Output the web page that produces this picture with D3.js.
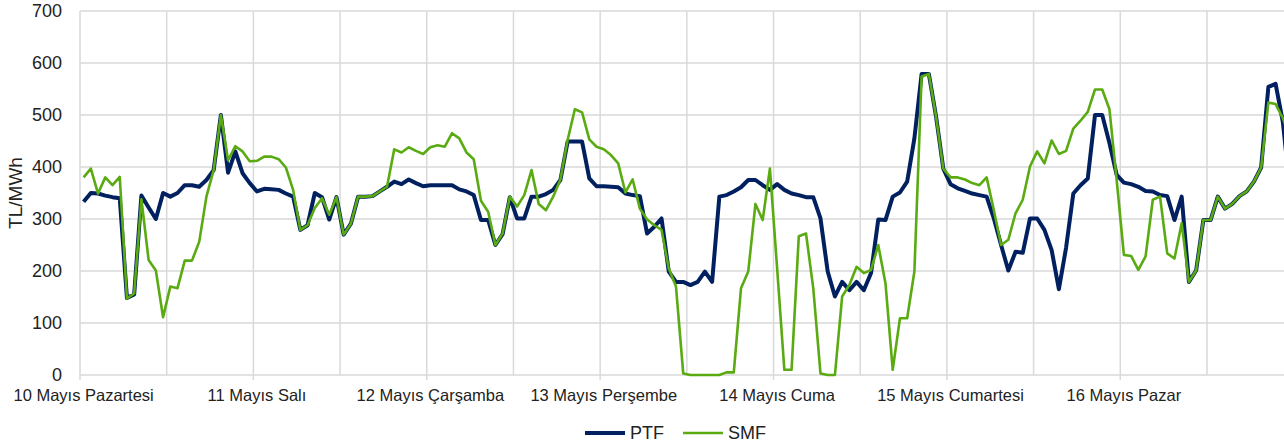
<!DOCTYPE html>
<html>
<head>
<meta charset="utf-8">
<script src="https://cdn.jsdelivr.net/npm/d3@7"></script>
<style>
  body { margin: 0; background: #fff; }
  text { font-family: Arial, "Liberation Sans", sans-serif; fill: #222; }
</style>
</head>
<body>
<script>
// hourly prices, 10-16 May (168 hours)
var days = ["10 Mayıs Pazartesi", "11 Mayıs Salı", "12 Mayıs Çarşamba", "13 Mayıs Perşembe",
            "14 Mayıs Cuma", "15 Mayıs Cumartesi", "16 Mayıs Pazar"];

var ptf = [
  333, 350, 349, 345, 342, 340, 148, 155, 345, 322, 300, 350, 343, 350, 365, 365, 362, 375, 394, 500, 389, 430, 388, 369,
  353, 358, 357, 356, 349, 343, 279, 288, 350, 342, 299, 342, 270, 291, 343, 343, 344, 353, 362, 372, 367, 376, 369, 363,
  365, 365, 365, 365, 357, 353, 346, 298, 298, 250, 271, 342, 301, 301, 343, 343, 348, 356, 375, 449, 449, 449, 378, 363,
  363, 362, 361, 349, 346, 344, 272, 285, 301, 199, 179, 179, 173, 179, 199, 179, 343, 346, 353, 361, 375, 375, 365, 356,
  367, 356, 349, 346, 342, 342, 301, 199, 151, 179, 163, 179, 163, 196, 299, 298, 343, 351, 372, 455, 579, 579, 497, 397,
  367, 359, 354, 349, 346, 343, 301, 250, 201, 237, 235, 301, 301, 279, 240, 165, 245, 349, 365, 378, 500, 500, 446, 385,
  370, 367, 362, 354, 353, 346, 344, 298, 343, 179, 201, 298, 298, 343, 320, 329, 344, 353, 372, 399, 554, 560, 487, 355
];

var smf = [
  380, 397, 349, 380, 365, 381, 147, 157, 338, 221, 201, 111, 170, 167, 220, 220, 256, 343, 394, 500, 413, 440, 430, 411,
  412, 420, 420, 415, 399, 356, 279, 288, 321, 340, 308, 342, 270, 291, 343, 343, 344, 353, 362, 434, 428, 438, 431, 425,
  438, 442, 439, 465, 455, 428, 415, 335, 314, 250, 272, 343, 324, 346, 394, 329, 317, 343, 376, 452, 511, 505, 453, 439,
  434, 423, 407, 351, 376, 320, 299, 288, 279, 205, 170, 3, 0, 0, 0, 0, 0, 5, 5, 167, 199, 329, 298, 397,
  205, 10, 10, 267, 272, 167, 3, 0, 0, 151, 173, 208, 196, 202, 250, 176, 10, 109, 109, 199, 574, 579, 497, 397,
  380, 380, 376, 369, 365, 380, 317, 250, 260, 311, 337, 401, 430, 407, 451, 425, 431, 474, 489, 506, 549, 549, 511, 375,
  231, 229, 202, 228, 337, 343, 234, 224, 292, 179, 201, 298, 298, 343, 320, 329, 344, 353, 372, 399, 524, 521, 494, 455
];

var yTicks = [0, 100, 200, 300, 400, 500, 600, 700];

var width = 1284,
    height = 448;

var left = 80,
    top_ = 11,
    bottom = 375,
    hourW = 86.69 / 12;

var ptf_col = "#002060",
    smf_col = "#5aaa12",
    grid_col = "#d9d9d9";

var x = d3.scaleLinear()
    .domain([0, ptf.length])
    .range([left, left + ptf.length * hourW]);

var y = d3.scaleLinear()
    .domain([0, 700])
    .range([bottom, top_]);

var svg = d3.select("body").append("svg")
    .attr("width", width)
    .attr("height", height);

svg.append("defs").append("clipPath").attr("id", "plot")
  .append("rect")
    .attr("x", left).attr("y", 0)
    .attr("width", width - left).attr("height", bottom + 2);

// horizontal grid
svg.append("g").selectAll("line")
    .data(yTicks.slice(1))
    .join("line")
    .attr("x1", left).attr("x2", width)
    .attr("y1", d => y(d)).attr("y2", d => y(d))
    .style("stroke", grid_col)
    .style("stroke-width", 1.5);

// vertical grid every 12 hours
svg.append("g").selectAll("line")
    .data(d3.range(0, ptf.length + 1, 12))
    .join("line")
    .attr("x1", d => x(d)).attr("x2", d => x(d))
    .attr("y1", top_).attr("y2", bottom)
    .style("stroke", grid_col)
    .style("stroke-width", 1.5);

// x axis line + day ticks
svg.append("line")
    .attr("x1", left).attr("x2", width)
    .attr("y1", bottom).attr("y2", bottom)
    .style("stroke", grid_col)
    .style("stroke-width", 1.5);

svg.append("g").selectAll("line")
    .data(d3.range(0, ptf.length, 24))
    .join("line")
    .attr("x1", d => x(d)).attr("x2", d => x(d))
    .attr("y1", bottom).attr("y2", bottom + 5)
    .style("stroke", grid_col)
    .style("stroke-width", 1.5);

// y tick labels
svg.append("g").selectAll("text")
    .data(yTicks)
    .join("text")
    .attr("x", 62)
    .attr("y", d => y(d))
    .attr("dy", "0.35em")
    .attr("text-anchor", "end")
    .style("font-size", "18px")
    .text(d => d);

// day labels
svg.append("g").selectAll("text")
    .data(days)
    .join("text")
    .attr("x", (d, i) => x(i * 24 + 0.5))
    .attr("y", 395)
    .attr("dy", "0.35em")
    .attr("text-anchor", "middle")
    .style("font-size", "16.5px")
    .text(d => d);

// axis title
svg.append("text")
    .attr("transform", "translate(15,193) rotate(-90)")
    .attr("dy", "0.35em")
    .attr("text-anchor", "middle")
    .style("font-size", "19px")
    .text("TL/MWh");

// lines
var line = d3.line()
    .x((d, i) => x(i + 0.5))
    .y(d => y(d));

var plot = svg.append("g").attr("clip-path", "url(#plot)");

plot.append("path")
    .datum(ptf)
    .attr("d", line)
    .style("fill", "none")
    .style("stroke", ptf_col)
    .style("stroke-width", 4)
    .style("stroke-linejoin", "round");

plot.append("path")
    .datum(smf)
    .attr("d", line)
    .style("fill", "none")
    .style("stroke", smf_col)
    .style("stroke-width", 2.6)
    .style("stroke-linejoin", "round");

// legend
var legend = [["PTF", ptf_col, 4, 585], ["SMF", smf_col, 2.6, 683]];
var lg = svg.append("g").selectAll("g")
    .data(legend)
    .join("g")
    .attr("transform", d => "translate(" + d[3] + ",433)");

lg.append("line")
    .attr("x1", 0).attr("x2", 40)
    .style("stroke", d => d[1])
    .style("stroke-width", d => d[2]);

lg.append("text")
    .attr("x", 45)
    .attr("dy", "0.35em")
    .style("font-size", "18px")
    .text(d => d[0]);
</script>
</body>
</html>
